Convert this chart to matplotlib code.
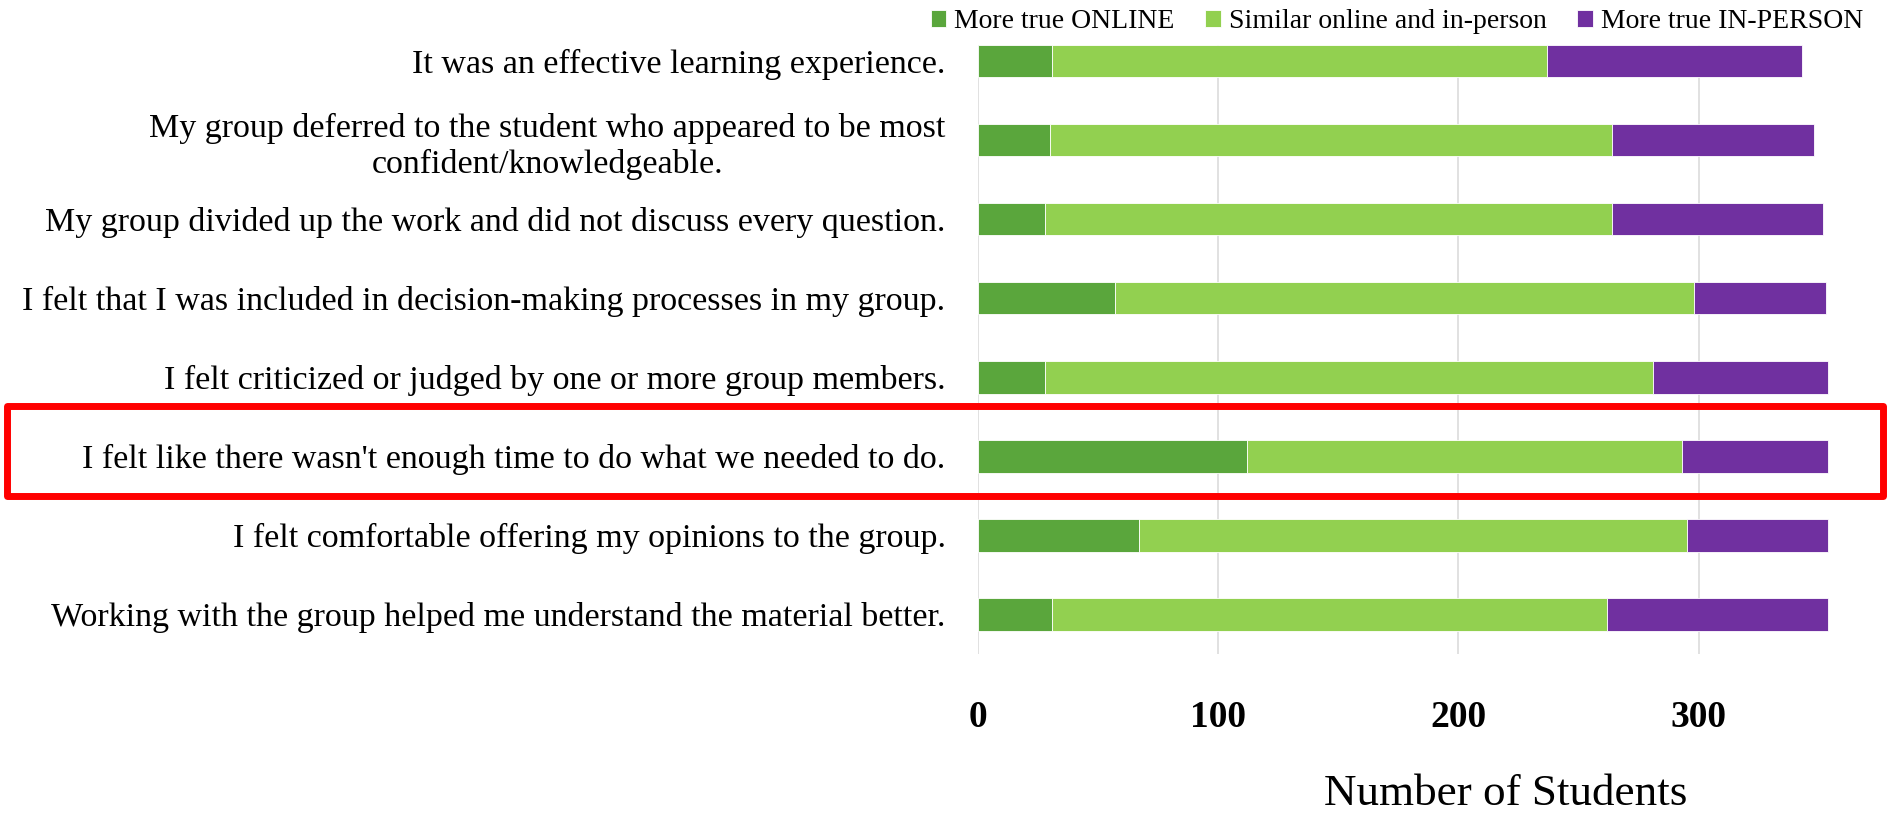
import numpy as np
import matplotlib
matplotlib.use("Agg")
import matplotlib.pyplot as plt
from matplotlib.patches import Rectangle
from matplotlib.transforms import blended_transform_factory

# Survey statements, listed top to bottom as in the chart
statements = [
    "It was an effective learning experience.",
    "My group deferred to the student who appeared to be most\nconfident/knowledgeable.",
    "My group divided up the work and did not discuss every question.",
    "I felt that I was included in decision-making processes in my group.",
    "I felt criticized or judged by one or more group members.",
    "I felt like there wasn't enough time to do what we needed to do.",
    "I felt comfortable offering my opinions to the group.",
    "Working with the group helped me understand the material better.",
]

# Number of students per response
more_online = [31, 30, 28, 57, 28, 112, 67, 31]
similar = [206, 234, 236, 241, 253, 181, 228, 231]
more_in_person = [106, 84, 88, 55, 73, 61, 59, 92]

series_names = ["More true ONLINE", "Similar online and in-person", "More true IN-PERSON"]
colors = ["#5aa63c", "#92d050", "#7030a0"]
x_ticks = [0, 100, 200, 300]
highlight = 5  # statement boxed in red

plt.rcParams['font.family'] = ['Liberation Serif', 'DejaVu Serif']

fig = plt.figure(figsize=(18.89, 8.14), dpi=100)
ax = fig.add_axes([0.5175, 0.1966, 0.4580, 0.7482])

y = np.arange(len(statements))[::-1]
left = np.zeros(len(statements))
for values, name, color in zip([more_online, similar, more_in_person], series_names, colors):
    ax.barh(y, values, left=left, height=0.41, color=color, edgecolor='white',
            linewidth=0.6, label=name, zorder=3)
    left += np.array(values)

ax.set_xlim(0, 360)
ax.set_ylim(-0.5, len(statements) - 1 + 0.205)
ax.set_xticks(x_ticks)
ax.set_xticklabels([str(t) for t in x_ticks], fontsize=27, fontweight='bold')
ax.set_yticks(y)
ax.set_yticklabels(statements, fontsize=24.5, linespacing=1.2)
for lbl in ax.get_yticklabels():
    lbl.set_multialignment('center')
ax.tick_params(axis='x', length=0, pad=33)
ax.tick_params(axis='y', length=0, pad=23)
for s in ax.spines.values():
    s.set_visible(False)
ax.grid(axis='x', color='#d9d9d9', linewidth=1.1, zorder=0)
ax.set_axisbelow(True)

ax.set_xlabel("Number of Students", fontsize=32.5)
ax.xaxis.set_label_coords(0.61, -0.23)
ax.xaxis.label.set_va('center')

leg = ax.legend(loc='center', bbox_to_anchor=(0.7395, 0.973), bbox_transform=fig.transFigure,
                ncol=3, frameon=False, fontsize=20, handlelength=0.55, handleheight=0.55,
                handletextpad=0.3, columnspacing=1.1, borderpad=0, borderaxespad=0)

# red box around the highlighted statement
trans = blended_transform_factory(fig.transFigure, ax.transData)
yc = y[highlight]
box = Rectangle((0.0037, yc - 0.505), 0.9931, 1.145, transform=trans, fill=False,
                edgecolor='#ff0000', linewidth=5, joinstyle='round', clip_on=False, zorder=5)
ax.add_patch(box)

fig.savefig("out.png", dpi=100)
